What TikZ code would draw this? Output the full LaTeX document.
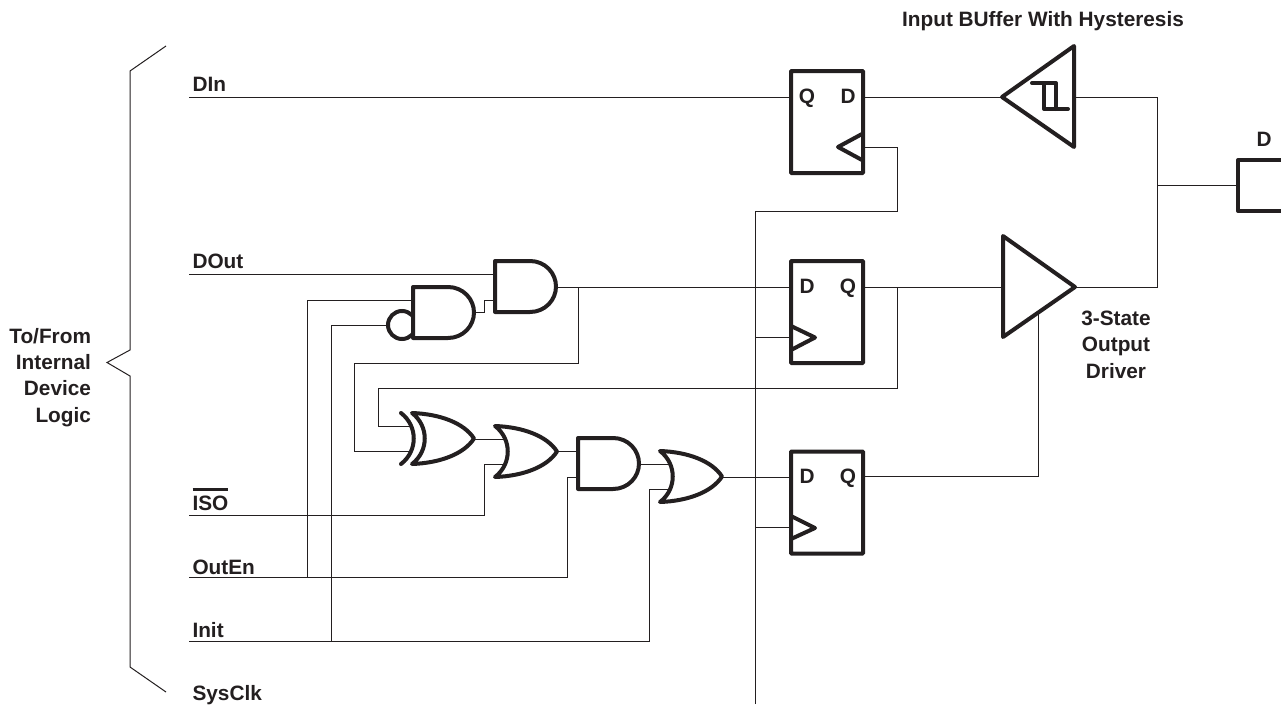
\documentclass[tikz,border=0pt]{standalone}
\usepackage{fontspec}
\setmainfont{Liberation Sans}
\definecolor{ink}{HTML}{231F20}
\tikzset{
  wire/.style={draw=ink,line width=1pt,line join=miter},
  gate/.style={draw=ink,line width=4pt,line join=round,line cap=round,fill=white},
  label/.style={text=ink,font=\bfseries\fontsize{20.8}{26.2}\selectfont,inner sep=0pt,outer sep=0pt},
  ffbox/.style={draw=ink,line width=4pt,rounded corners=0.8pt,fill=white,minimum width=72pt,minimum height=102pt,inner sep=0pt,outer sep=0pt},
  bubble/.style={circle,draw=ink,line width=4pt,fill=white,minimum size=28pt,inner sep=0pt,outer sep=2pt},
  andgate/.pic={
    \path[gate] (0,0) -- (35,0) .. controls (50,0) and (61,12) .. (61,25.5) .. controls (61,39) and (50,51) .. (35,51) -- (0,51) -- cycle;
    \coordinate (-a) at (0,13); \coordinate (-b) at (0,39); \coordinate (-o) at (61,25.5);
  },
  orgate/.pic={
    \path[gate] (0,0) .. controls (28,1) and (52,10) .. (62,25.5) .. controls (52,41) and (28,50) .. (0,51) .. controls (17,38) and (17,13) .. (0,0) -- cycle;
    \coordinate (-a) at (10,13); \coordinate (-b) at (10,38); \coordinate (-o) at (62,25.5);
  },
  xorgate/.pic={
    \path[gate] (0,0) .. controls (28,1) and (52,10) .. (62,25.5) .. controls (52,41) and (28,50) .. (0,51) .. controls (17,38) and (17,13) .. (0,0) -- cycle;
    \path[gate,fill=none] (-11,0) .. controls (6,13) and (6,38) .. (-11,51);
    \coordinate (-a) at (-1.5,13); \coordinate (-b) at (-1.5,38); \coordinate (-o) at (62,25.5);
  },
}
\begin{document}
\begin{tikzpicture}[x=1pt,y=-1pt]
\useasboundingbox (0,0) rectangle (1281,704);
% free ends of the signal lines
\coordinate (din) at (189,97);
\coordinate (dout) at (189,274);
\coordinate (iso) at (189,515);
\coordinate (outen) at (189,577.5);
\coordinate (init) at (189,641);
\coordinate (clkb) at (755,704);
\coordinate (clkt) at (755,211);
\coordinate (padin) at (1238,185);
% wires
\draw[wire] (clkb) -- (clkt) -- (897,211) |- (863,147);
\draw[wire] (din) -- (800,97);
\draw[wire] (855,97) -- (1005,97);
\draw[wire] (1070,97) -| (1157,287) -- (1070,287);
\draw[wire] (1157,185) -- (padin);
\draw[wire] (dout) -- (500,274);
\draw[wire] (outen) -- (567,577.5) |- (585,477);
\draw[wire] (307,577.5) |- (420,300);
\draw[wire] (init) -- (649,641) |- (675,489);
\draw[wire] (331,641) |- (395,325);
\draw[wire] (iso) -- (484,515) |- (510,464);
\draw[wire] (470,312.5) -- (484,312.5) |- (500,300);
\draw[wire] (550,287) -- (800,287);
\draw[wire] (578.5,287) |- (354,363) |- (410.5,451);
\draw[wire] (855,287) -- (1010,287);
\draw[wire] (897,287) |- (378,388) |- (410.5,426);
\draw[wire] (470,439) -- (510,439);
\draw[wire] (555,451) -- (585,451);
\draw[wire] (635,464) -- (675,464);
\draw[wire] (720,477) -- (800,477);
\draw[wire] (755,337) -- (795,337);
\draw[wire] (755,527) -- (795,527);
\draw[wire] (855,476.5) -| (1038,310);
% bracket
\path[wire,fill=none] (166,46) -- (130,71) -- (130,350) -- (107,362.5) -- (130,376) -- (130,667) -- (166,692);
% gates
\pic (and2) at (495,261) {andgate};
\node[bubble] (nb) at (402,325) {};
\pic (nand) at (413,287) {andgate};
\pic (xor) at (412,413) {xorgate};
\pic (or1) at (495,426) {orgate};
\pic (and3) at (578,438) {andgate};
\pic (or2) at (660,451) {orgate};
% flip-flops
\node[ffbox] (ff1) at (827,122) {};
\node[ffbox] (ff2) at (827,312) {};
\node[ffbox] (ff3) at (827,502.5) {};
\path[gate,fill=none] (862,134) -- (838,147) -- (862,160);
\path[gate,fill=none] (791,326) -- (815,337.5) -- (791,350);
\path[gate,fill=none] (791,516) -- (815,528) -- (791,539);
% buffers
\path[gate] (1002,97) -- (1074,46) -- (1074,147) -- cycle;
\path[gate,fill=none] (1032,83) -- (1056,83) -- (1056,109);
\path[gate,fill=none] (1068,109) -- (1044,109) -- (1044,83);
\path[gate] (1003,236) -- (1075,287) -- (1003,337) -- cycle;
% pad
\path[gate,fill=none,line cap=butt] (1281,160) -- (1238,160) -- (1238,211) -- (1281,211);
% labels
\node[label,anchor=base west] (tdin) at (192.5,91) {DIn};
\node[label,anchor=base west] (tdout) at (192.5,268) {DOut};
\node[label,anchor=base west] (tiso) at (192.5,510) {\vbox{\hrule height 3pt\kern 4pt\hbox{ISO}}};
\node[label,anchor=base west] (toe) at (192.5,574) {OutEn};
\node[label,anchor=base west] (tinit) at (192.5,637) {Init};
\node[label,anchor=base west] (tclk) at (192.5,700) {SysClk};
\node[label,anchor=base east,align=right] (tside) at (91,422) {To/From\\Internal\\Device\\Logic};
\node[label,anchor=base,align=center] (tdrv) at (1116,378) {3-State\\Output\\Driver};
\node[label,anchor=base] (ttitle) at (1043,27) {Input BUffer With Hysteresis};
\node[label,anchor=base] (tpad) at (1264,146) {D};
\node[label,anchor=base] (tq1) at (807,103) {Q};
\node[label,anchor=base] (td1) at (848,103) {D};
\node[label,anchor=base] (td2) at (807,293) {D};
\node[label,anchor=base] (tq2) at (848,293) {Q};
\node[label,anchor=base] (td3) at (807,483) {D};
\node[label,anchor=base] (tq3) at (848,483) {Q};
\end{tikzpicture}
\end{document}
